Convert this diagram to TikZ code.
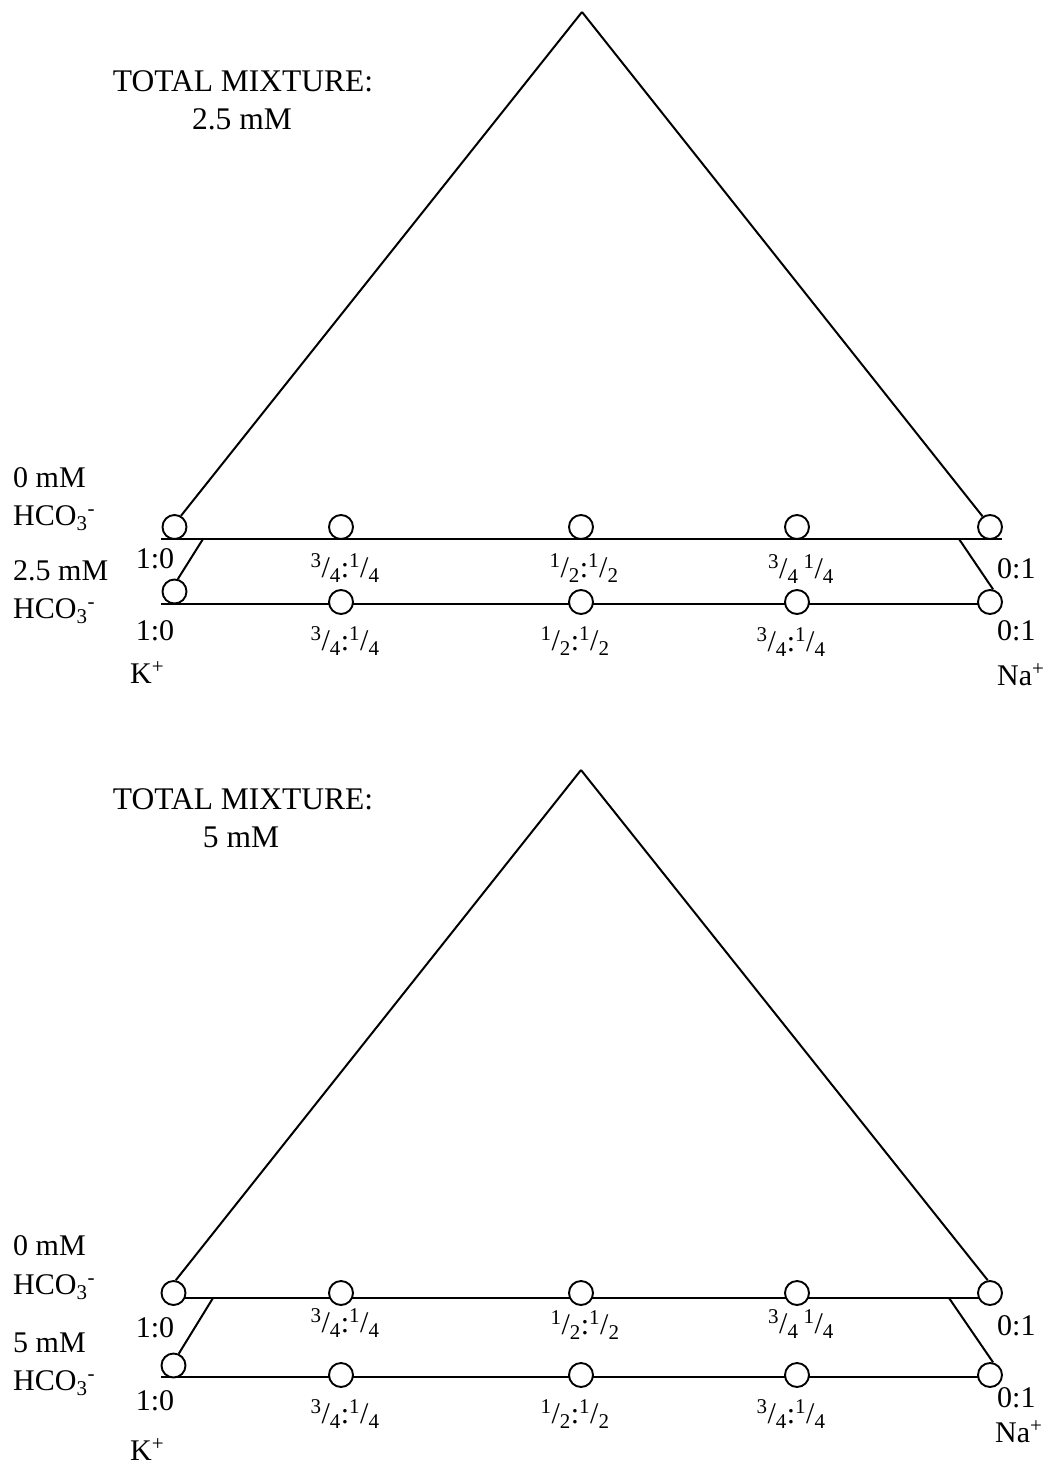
\documentclass[tikz,border=0pt]{standalone}
\usepackage{fontspec}
\setmainfont{Liberation Serif}
\usetikzlibrary{backgrounds}
\newcommand{\frc}[2]{\textsuperscript{#1}/\textsubscript{#2}}
\newcommand{\bicarb}{HCO\textsubscript{3}\textsuperscript{-}}

\begin{document}
\begin{tikzpicture}[x=1pt, y=-1pt,
    mixdot/.style={circle, draw=black, line width=1.9pt, fill=white,
        minimum size=24pt, inner sep=0pt},
    lbl/.style={anchor=base, inner sep=0pt, font=\fontsize{30}{36}\selectfont},
    lblw/.style={lbl, anchor=base west},
    ttl/.style={anchor=base, inner sep=0pt, font=\fontsize{31.5}{38}\selectfont},
    link/.style={draw=black, line width=2pt}
]
\useasboundingbox (0,0) rectangle (1050,1467);

% --- Total mixture 2.5 mM ---
\node[ttl] (ttlA) at (243,91) {TOTAL MIXTURE:};
\node[ttl] (concA) at (242,129) {2.5 mM};

\node[lblw] (zeroA) at (13,487) {0 mM};
\node[lblw] (hcoA1) at (13,525) {\bicarb};
\node[lblw] (bicA) at (13,580) {2.5 mM};
\node[lblw] (hcoA2) at (13,618) {\bicarb};

% circles, 0 mM row
\node[mixdot] (kA1) at (174.5,527) {};
\node[mixdot] (qA1) at (341,527) {};
\node[mixdot] (hA1) at (581,527) {};
\node[mixdot] (tA1) at (797,527) {};
\node[mixdot] (nA1) at (990,527) {};

% circles, 2.5 mM row
\node[mixdot] (kA2) at (174.5,591.5) {};
\node[mixdot] (qA2) at (341,602) {};
\node[mixdot] (hA2) at (581,602) {};
\node[mixdot] (tA2) at (797,602) {};
\node[mixdot] (nA2) at (990,602) {};

% ratios
\node[lbl] (rkA1) at (155,568) {1:0};
\node[lbl] (rqA1) at (345,577) {\frc{3}{4}:\frc{1}{4}};
\node[lbl] (rhA1) at (584,577) {\frc{1}{2}:\frc{1}{2}};
\node[lbl] (rtA1) at (801,578) {\frc{3}{4}\,\frc{1}{4}};
\node[lblw] (rnA1) at (997,578) {0:1};

\node[lbl] (rkA2) at (155,640) {1:0};
\node[lbl] (rqA2) at (345,650) {\frc{3}{4}:\frc{1}{4}};
\node[lbl] (rhA2) at (575,650) {\frc{1}{2}:\frc{1}{2}};
\node[lbl] (rtA2) at (791,651) {\frc{3}{4}:\frc{1}{4}};
\node[lblw] (rnA2) at (997,640) {0:1};

\node[lblw] (potA) at (130,683) {K\textsuperscript{+}};
\node[lblw] (sodA) at (997,685) {Na\textsuperscript{+}};

\begin{scope}[on background layer]
\coordinate (apexA) at (582,12);
\draw[link] (apexA) -- (kA1.60);
\draw[link] (apexA) -- (nA1.125);
\coordinate (lA1) at (161,539);
\coordinate (rA1) at (1002,539);
\draw[link] (lA1) -- (rA1);
\coordinate (lA2) at (161,604);
\coordinate (rA2) at (990,604);
\draw[link] (lA2) -- (rA2);
\coordinate (jA1) at (203,539);
\coordinate (jA2) at (959,539);
\draw[link] (jA1) -- (kA2.75);
\draw[link] (jA2) -- (nA2.76);
\end{scope}

% --- Total mixture 5 mM ---
\node[ttl] (ttlB) at (243,809) {TOTAL MIXTURE:};
\node[ttl] (concB) at (241,847) {5 mM};

\node[lblw] (zeroB) at (13,1255) {0 mM};
\node[lblw] (hcoB1) at (13,1294) {\bicarb};
\node[lblw] (bicB) at (13,1352) {5 mM};
\node[lblw] (hcoB2) at (13,1390) {\bicarb};

% circles, 0 mM row
\node[mixdot] (kB1) at (173.5,1293) {};
\node[mixdot] (qB1) at (341,1293) {};
\node[mixdot] (hB1) at (581,1293) {};
\node[mixdot] (tB1) at (797,1293) {};
\node[mixdot] (nB1) at (990,1293) {};

% circles, 5 mM row
\node[mixdot] (kB2) at (173.5,1365.5) {};
\node[mixdot] (qB2) at (341,1375) {};
\node[mixdot] (hB2) at (581,1375) {};
\node[mixdot] (tB2) at (797,1375) {};
\node[mixdot] (nB2) at (990,1375) {};

% ratios
\node[lbl] (rkB1) at (155,1337) {1:0};
\node[lbl] (rqB1) at (345,1332) {\frc{3}{4}:\frc{1}{4}};
\node[lbl] (rhB1) at (585,1334) {\frc{1}{2}:\frc{1}{2}};
\node[lbl] (rtB1) at (801,1333) {\frc{3}{4}\,\frc{1}{4}};
\node[lblw] (rnB1) at (997,1335) {0:1};

\node[lbl] (rkB2) at (155,1410) {1:0};
\node[lbl] (rqB2) at (345,1423) {\frc{3}{4}:\frc{1}{4}};
\node[lbl] (rhB2) at (575,1423) {\frc{1}{2}:\frc{1}{2}};
\node[lbl] (rtB2) at (791,1423) {\frc{3}{4}:\frc{1}{4}};
\node[lblw] (rnB2) at (997,1407) {0:1};

\node[lblw] (potB) at (130,1460) {K\textsuperscript{+}};
\node[lblw] (sodB) at (995,1442) {Na\textsuperscript{+}};

\begin{scope}[on background layer]
\coordinate (apexB) at (581,770);
\draw[link] (apexB) -- (kB1.80);
\draw[link] (apexB) -- (nB1.100);
\coordinate (lB1) at (174,1298);
\coordinate (rB1) at (990,1298);
\draw[link] (lB1) -- (rB1);
\coordinate (lB2) at (161,1377);
\coordinate (rB2) at (990,1377);
\draw[link] (lB2) -- (rB2);
\coordinate (jB1) at (213,1298);
\coordinate (jB2) at (949,1298);
\draw[link] (jB1) -- (kB2.66);
\draw[link] (jB2) -- (nB2.76);
\end{scope}

\end{tikzpicture}
\end{document}
